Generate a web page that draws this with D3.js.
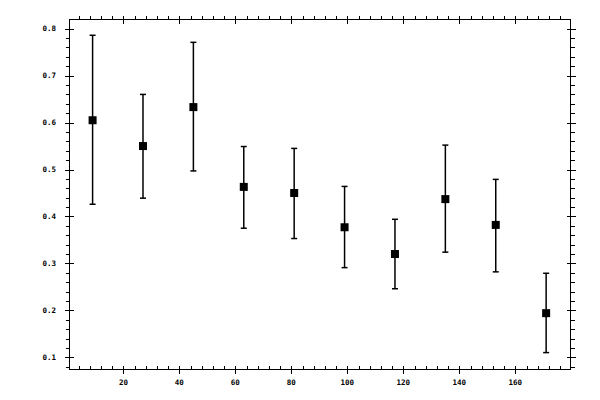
<!DOCTYPE html>
<html>
<head>
<meta charset="utf-8">
<script src="https://cdn.jsdelivr.net/npm/d3@7/dist/d3.min.js"></script>
<style>
  body { margin: 0; background: #fff; }
  text { font-family: "DejaVu Sans Mono", monospace; font-size: 7.5px; font-weight: bold; fill: #000; }
</style>
</head>
<body>
<div id="chart"></div>
<script>
var width = 600, height = 400;

// bin centres and measured values
var xValues = [9, 27, 45, 63, 81, 99, 117, 135, 153, 171];
var yValues = [0.605, 0.550, 0.633, 0.463, 0.450, 0.377, 0.320, 0.437, 0.382, 0.194];
var yLower  = [0.426, 0.439, 0.497, 0.375, 0.353, 0.291, 0.246, 0.324, 0.282, 0.110];
var yUpper  = [0.786, 0.660, 0.771, 0.549, 0.545, 0.464, 0.394, 0.552, 0.479, 0.279];

var xTicks = [20, 40, 60, 80, 100, 120, 140, 160];
var yTicks = [0.1, 0.2, 0.3, 0.4, 0.5, 0.6, 0.7, 0.8];

var frame = {left: 69.5, right: 570.5, top: 19.5, bottom: 369.5};

var svg = d3.select("#chart")
    .append("svg")
    .attr("width", width)
    .attr("height", height);

var x = d3.scaleLinear()
    .domain([0.75, 179.7])
    .range([frame.left, frame.right]);

var y = d3.scaleLinear()
    .domain([0.074, 0.8196])
    .range([frame.bottom, frame.top]);

var xMinor = d3.range(4, 180, 4).filter(d => d % 20 != 0);
var yMinor = d3.range(8, 82, 2).map(d => d / 100).filter(d => Math.round(d * 100) % 10 != 0);

var px = v => Math.round(v) + 0.5;

var axes = svg.append("g")
    .attr("stroke", "#000")
    .attr("stroke-width", 1)
    .attr("shape-rendering", "crispEdges");

// frame
axes.append("rect")
    .attr("x", frame.left)
    .attr("y", frame.top)
    .attr("width", frame.right - frame.left)
    .attr("height", frame.bottom - frame.top)
    .attr("fill", "none");

// minor ticks: top, left, right outward, bottom inward
xMinor.forEach(d => {
    axes.append("line").attr("x1", px(x(d))).attr("x2", px(x(d)))
        .attr("y1", frame.top - 4).attr("y2", frame.top);
    axes.append("line").attr("x1", px(x(d))).attr("x2", px(x(d)))
        .attr("y1", frame.bottom - 4).attr("y2", frame.bottom);
});
yMinor.forEach(d => {
    axes.append("line").attr("y1", px(y(d))).attr("y2", px(y(d)))
        .attr("x1", frame.left - 4).attr("x2", frame.left);
    axes.append("line").attr("y1", px(y(d))).attr("y2", px(y(d)))
        .attr("x1", frame.right).attr("x2", frame.right + 4);
});

// major ticks cross the frame
xTicks.forEach(d => {
    axes.append("line").attr("x1", px(x(d))).attr("x2", px(x(d)))
        .attr("y1", frame.top - 4).attr("y2", frame.top + 4);
    axes.append("line").attr("x1", px(x(d))).attr("x2", px(x(d)))
        .attr("y1", frame.bottom - 4).attr("y2", frame.bottom + 4);
});
yTicks.forEach(d => {
    axes.append("line").attr("y1", px(y(d))).attr("y2", px(y(d)))
        .attr("x1", frame.left - 5).attr("x2", frame.left + 4);
    axes.append("line").attr("y1", px(y(d))).attr("y2", px(y(d)))
        .attr("x1", frame.right - 4).attr("x2", frame.right + 5);
});

svg.selectAll("text.xLabel")
    .data(xTicks)
    .enter()
    .append("text")
    .attr("class", "xLabel")
    .attr("x", d => x(d))
    .attr("y", 384.5)
    .style("text-anchor", "middle")
    .text(d => d);

svg.selectAll("text.yLabel")
    .data(yTicks)
    .enter()
    .append("text")
    .attr("class", "yLabel")
    .attr("x", 56)
    .attr("y", d => y(d) + 2.5)
    .style("text-anchor", "end")
    .text(d => d3.format(".1f")(d));

// error bars
var points = xValues.map((d, i) => ({x: d, y: yValues[i], lo: yLower[i], hi: yUpper[i]}));

var bars = svg.append("g")
    .attr("stroke", "#000")
    .attr("stroke-width", 1.5);

bars.selectAll("line.stem")
    .data(points)
    .enter()
    .append("line")
    .attr("class", "stem")
    .attr("x1", d => x(d.x)).attr("x2", d => x(d.x))
    .attr("y1", d => y(d.hi)).attr("y2", d => y(d.lo));

bars.selectAll("line.capHi")
    .data(points)
    .enter()
    .append("line")
    .attr("class", "capHi")
    .attr("x1", d => x(d.x) - 3).attr("x2", d => x(d.x) + 3)
    .attr("y1", d => y(d.hi)).attr("y2", d => y(d.hi));

bars.selectAll("line.capLo")
    .data(points)
    .enter()
    .append("line")
    .attr("class", "capLo")
    .attr("x1", d => x(d.x) - 3).attr("x2", d => x(d.x) + 3)
    .attr("y1", d => y(d.lo)).attr("y2", d => y(d.lo));

svg.selectAll("rect.marker")
    .data(points)
    .enter()
    .append("rect")
    .attr("class", "marker")
    .attr("x", d => x(d.x) - 4)
    .attr("y", d => y(d.y) - 4)
    .attr("width", 8)
    .attr("height", 8)
    .attr("fill", "#000");
</script>
</body>
</html>
